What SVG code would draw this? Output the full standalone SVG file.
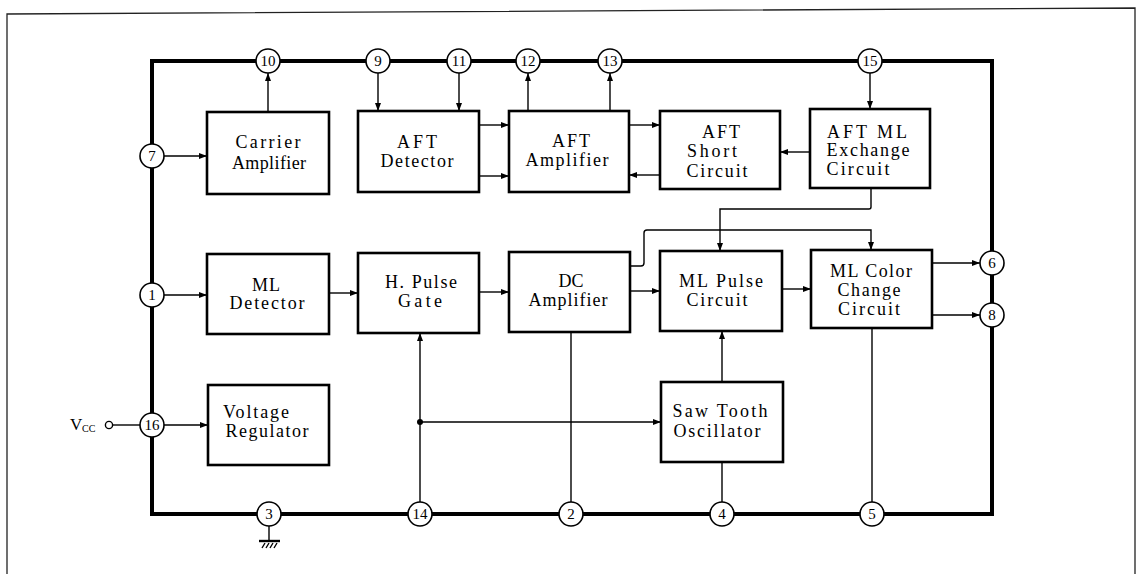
<svg xmlns="http://www.w3.org/2000/svg" width="1142" height="574" viewBox="0 0 1142 574">
<style>
.frame{fill:none;stroke:#222;stroke-width:1.3}
.ic{fill:none;stroke:#000;stroke-width:4}
.box{fill:#fff;stroke:#000;stroke-width:2.6}
.w{fill:none;stroke:#000;stroke-width:1.4}
.pin{fill:#fff;stroke:#000;stroke-width:1.6}
.t{font-family:"Liberation Serif","DejaVu Serif",serif;font-size:18px;fill:#000;text-anchor:middle}
.pn{font-family:"Liberation Serif","DejaVu Serif",serif;font-size:15px;fill:#000;text-anchor:middle}
</style>
<defs>
<marker id="ar" markerUnits="userSpaceOnUse" markerWidth="9" markerHeight="7" refX="8" refY="3" orient="auto">
<path d="M0,0 L8,3 L0,6 z" fill="#000"/>
</marker>
</defs>
<rect width="1142" height="574" fill="#fff"/>
<path class="frame" d="M7,574 V14 L1135,8 V574"/>
<rect id="ic-body" class="ic" x="152" y="61" width="840" height="453"/>

<g id="connectors">
<path class="w" d="M268,112 V73" marker-end="url(#ar)"/>
<path class="w" d="M378,73 V111" marker-end="url(#ar)"/>
<path class="w" d="M459,73 V111" marker-end="url(#ar)"/>
<path class="w" d="M528,111 V73" marker-end="url(#ar)"/>
<path class="w" d="M610,111 V73" marker-end="url(#ar)"/>
<path class="w" d="M870,73 V109" marker-end="url(#ar)"/>
<path class="w" d="M164,156 H207" marker-end="url(#ar)"/>
<path class="w" d="M479,125 H509" marker-end="url(#ar)"/>
<path class="w" d="M479,176 H509" marker-end="url(#ar)"/>
<path class="w" d="M629,125 H660" marker-end="url(#ar)"/>
<path class="w" d="M660,175 H629" marker-end="url(#ar)"/>
<path class="w" d="M810,152 H780" marker-end="url(#ar)"/>
<path class="w" d="M871,188 V207 Q871,209 869,209 H720 V251" marker-end="url(#ar)"/>
<path class="w" d="M630,266 H641 Q644,266 644,263 V233 Q644,230 647,230 H871 V250" marker-end="url(#ar)"/>
<path class="w" d="M164,295 H207" marker-end="url(#ar)"/>
<path class="w" d="M329,293 H358" marker-end="url(#ar)"/>
<path class="w" d="M479,292 H509" marker-end="url(#ar)"/>
<path class="w" d="M630,291 H660" marker-end="url(#ar)"/>
<path class="w" d="M782,289 H811" marker-end="url(#ar)"/>
<path class="w" d="M932,263 H980" marker-end="url(#ar)"/>
<path class="w" d="M932,315 H980" marker-end="url(#ar)"/>
<path class="w" d="M164,425 H208" marker-end="url(#ar)"/>
<path class="w" d="M113,425 H140"/>
<circle cx="109" cy="425" r="3.6" fill="#fff" stroke="#000" stroke-width="1.4"/>
<path class="w" d="M420,502 V333" marker-end="url(#ar)"/>
<path class="w" d="M420,422 H661" marker-end="url(#ar)"/>
<circle cx="420" cy="422" r="3" fill="#000"/>
<path class="w" d="M571,332 V502"/>
<path class="w" d="M722,382 V331" marker-end="url(#ar)"/>
<path class="w" d="M722,462 V502"/>
<path class="w" d="M872,328 V502"/>
<path class="w" d="M269,526 V541"/>
<path d="M259,541 H280" stroke="#000" stroke-width="2.4"/>
<path class="w" d="M262,548 L265,543 M266,548 L269,543 M270,548 L273,543 M274,548 L277,543" stroke-width="1"/>
</g>

<g id="pins">
<g id="pin10"><circle class="pin" cx="268" cy="61" r="12"/><text class="pn" x="268" y="66">10</text></g>
<g id="pin9"><circle class="pin" cx="378" cy="61" r="12"/><text class="pn" x="378" y="66">9</text></g>
<g id="pin11"><circle class="pin" cx="459" cy="61" r="12"/><text class="pn" x="459" y="66">11</text></g>
<g id="pin12"><circle class="pin" cx="528" cy="61" r="12"/><text class="pn" x="528" y="66">12</text></g>
<g id="pin13"><circle class="pin" cx="610" cy="61" r="12"/><text class="pn" x="610" y="66">13</text></g>
<g id="pin15"><circle class="pin" cx="870" cy="61" r="12"/><text class="pn" x="870" y="66">15</text></g>
<g id="pin7"><circle class="pin" cx="152" cy="156" r="12"/><text class="pn" x="152" y="161">7</text></g>
<g id="pin1"><circle class="pin" cx="152" cy="295" r="12"/><text class="pn" x="152" y="300">1</text></g>
<g id="pin16"><circle class="pin" cx="152" cy="425" r="12"/><text class="pn" x="152" y="430">16</text></g>
<g id="pin3"><circle class="pin" cx="269" cy="514" r="12"/><text class="pn" x="269" y="519">3</text></g>
<g id="pin14"><circle class="pin" cx="420" cy="514" r="12"/><text class="pn" x="420" y="519">14</text></g>
<g id="pin2"><circle class="pin" cx="571" cy="514" r="12"/><text class="pn" x="571" y="519">2</text></g>
<g id="pin4"><circle class="pin" cx="722" cy="514" r="12"/><text class="pn" x="722" y="519">4</text></g>
<g id="pin5"><circle class="pin" cx="872" cy="514" r="12"/><text class="pn" x="872" y="519">5</text></g>
<g id="pin6"><circle class="pin" cx="992" cy="263" r="12"/><text class="pn" x="992" y="268">6</text></g>
<g id="pin8"><circle class="pin" cx="992" cy="315" r="12"/><text class="pn" x="992" y="320">8</text></g>
</g>

<g id="vcc">
<text x="70" y="430" font-family="Liberation Serif, serif" font-size="17">V</text>
<text x="82" y="432" font-family="Liberation Serif, serif" font-size="10">CC</text>
</g>

<g id="carrier-amplifier"><rect class="box" x="207" y="112" width="122" height="82"/>
<text class="t" x="268" y="148" textLength="65" lengthAdjust="spacing">Carrier</text>
<text class="t" x="269" y="169" textLength="74" lengthAdjust="spacing">Amplifier</text></g>

<g id="aft-detector"><rect class="box" x="358" y="111" width="121" height="81"/>
<text class="t" x="417" y="148" textLength="40" lengthAdjust="spacing">AFT</text>
<text class="t" x="417" y="167" textLength="73" lengthAdjust="spacing">Detector</text></g>

<g id="aft-amplifier"><rect class="box" x="509" y="111" width="120" height="81"/>
<text class="t" x="571" y="147" textLength="38" lengthAdjust="spacing">AFT</text>
<text class="t" x="567" y="166" textLength="83" lengthAdjust="spacing">Amplifier</text></g>

<g id="aft-short-circuit"><rect class="box" x="660" y="111" width="120" height="78"/>
<text class="t" x="721" y="138" textLength="38" lengthAdjust="spacing">AFT</text>
<text class="t" x="712" y="157" textLength="50" lengthAdjust="spacing">Short</text>
<text class="t" x="717" y="177" textLength="61" lengthAdjust="spacing">Circuit</text></g>

<g id="aft-ml-exchange-circuit"><rect class="box" x="810" y="109" width="120" height="79"/>
<text class="t" x="867" y="138" textLength="80" lengthAdjust="spacing">AFT ML</text>
<text class="t" x="868" y="156" textLength="83" lengthAdjust="spacing">Exchange</text>
<text class="t" x="858" y="175" textLength="63" lengthAdjust="spacing">Circuit</text></g>

<g id="ml-detector"><rect class="box" x="207" y="254" width="122" height="80"/>
<text class="t" x="266" y="291" textLength="28" lengthAdjust="spacing">ML</text>
<text class="t" x="267" y="309" textLength="75" lengthAdjust="spacing">Detector</text></g>

<g id="h-pulse-gate"><rect class="box" x="358" y="253" width="121" height="80"/>
<text class="t" x="421" y="288" textLength="72" lengthAdjust="spacing">H. Pulse</text>
<text class="t" x="420" y="307" textLength="44" lengthAdjust="spacing">Gate</text></g>

<g id="dc-amplifier"><rect class="box" x="509" y="252" width="121" height="80"/>
<text class="t" x="571" y="287" textLength="25" lengthAdjust="spacing">DC</text>
<text class="t" x="568" y="306" textLength="79" lengthAdjust="spacing">Amplifier</text></g>

<g id="ml-pulse-circuit"><rect class="box" x="660" y="251" width="122" height="80"/>
<text class="t" x="721" y="287" textLength="84" lengthAdjust="spacing">ML Pulse</text>
<text class="t" x="717" y="306" textLength="61" lengthAdjust="spacing">Circuit</text></g>

<g id="ml-color-change-circuit"><rect class="box" x="811" y="250" width="121" height="78"/>
<text class="t" x="871" y="277" textLength="82" lengthAdjust="spacing">ML Color</text>
<text class="t" x="869" y="296" textLength="63" lengthAdjust="spacing">Change</text>
<text class="t" x="869" y="315" textLength="62" lengthAdjust="spacing">Circuit</text></g>

<g id="voltage-regulator"><rect class="box" x="208" y="385" width="121" height="80"/>
<text class="t" x="256" y="418" textLength="66" lengthAdjust="spacing">Voltage</text>
<text class="t" x="267" y="437" textLength="83" lengthAdjust="spacing">Regulator</text></g>

<g id="saw-tooth-oscillator"><rect class="box" x="661" y="382" width="122" height="80"/>
<text class="t" x="720" y="417" textLength="95" lengthAdjust="spacing">Saw Tooth</text>
<text class="t" x="717" y="437" textLength="87" lengthAdjust="spacing">Oscillator</text></g>
</svg>
